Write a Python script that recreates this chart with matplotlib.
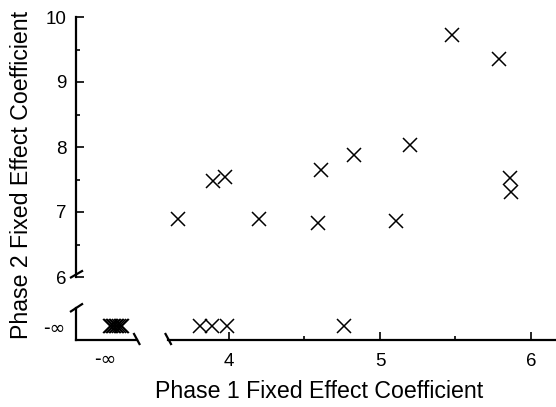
import matplotlib
matplotlib.use("Agg")
import matplotlib.pyplot as plt
from matplotlib.lines import Line2D
from matplotlib.ticker import MultipleLocator

plt.rcParams['font.family'] = ['Liberation Sans', 'DejaVu Sans']

# Points with finite values in both phases
phase1_finite = [3.67, 3.90, 3.98, 4.20, 4.59, 4.61, 4.83, 5.11, 5.20, 5.48, 5.79, 5.86, 5.87]
phase2_finite = [6.89, 7.47, 7.54, 6.89, 6.83, 7.64, 7.87, 6.86, 8.03, 9.73, 9.35, 7.52, 7.31]

# Points whose phase 2 coefficient is -inf (finite phase 1)
phase1_neginf2 = [3.81, 3.89, 3.99, 4.76]

# Points with both coefficients -inf (horizontal jitter as drawn)
neginf_jitter = [0.16, 0.21, 0.26, 0.31, 0.35, 0.40, 0.45, 0.51, 0.57]

yticks_main = [6, 7, 8, 9, 10]
xticks_main = [4, 5, 6]
neginf_label = "-\u221e"

W, H = 556, 407
fig = plt.figure(figsize=(W / 100, H / 100), dpi=100)

def rect(x0, y0, x1, y1):
    return [x0 / W, 1 - y1 / H, (x1 - x0) / W, (y1 - y0) / H]

def px(x, y):
    return x / W, 1 - y / H

XL, XR = 2.993, 6.166
ax_top = fig.add_axes(rect(76, 17, 556, 277))
ax_bl = fig.add_axes(rect(76, 308, 137, 340))
ax_br = fig.add_axes(rect(168, 308, 556, 340))

mk = dict(marker='x', linestyle='none', color='black', markersize=9.5, markeredgewidth=1.1, clip_on=False)
lw = 1.6
tick_fs = 13.5
label_fs = 16.7

# Top (main) axes
ax_top.plot(phase1_finite, phase2_finite, **mk)
ax_top.set_xlim(XL, XR)
ax_top.set_ylim(6, 10)
for s in ['top', 'right', 'bottom']:
    ax_top.spines[s].set_visible(False)
ax_top.spines['left'].set_linewidth(lw)
ax_top.set_xticks([])
ax_top.set_yticks(yticks_main)
ax_top.set_yticklabels([str(v) for v in yticks_main])
ax_top.yaxis.set_minor_locator(MultipleLocator(0.5))
ax_top.tick_params(axis='y', which='major', direction='in', length=6, width=1.2, pad=7, labelsize=tick_fs)
ax_top.tick_params(axis='y', which='minor', direction='in', length=3, width=1.2)
ax_top.patch.set_visible(False)

# Bottom-left (-inf, -inf)
ax_bl.plot(neginf_jitter, [0] * len(neginf_jitter), **mk)
ax_bl.set_xlim(-0.95, 1.05)
ax_bl.set_ylim(-0.875, 1.125)
for s in ['top', 'right']:
    ax_bl.spines[s].set_visible(False)
ax_bl.spines['left'].set_linewidth(lw)
ax_bl.spines['bottom'].set_linewidth(lw)
ax_bl.set_xticks([0])
ax_bl.set_xticklabels([neginf_label], family='DejaVu Sans')
ax_bl.set_yticks([0])
ax_bl.set_yticklabels([neginf_label], family='DejaVu Sans')
ax_bl.tick_params(axis='both', which='major', length=0, labelsize=tick_fs)
ax_bl.tick_params(axis='x', pad=7)
ax_bl.tick_params(axis='y', pad=8)
ax_bl.patch.set_visible(False)

# Bottom-right (finite phase 1, -inf phase 2)
ax_br.plot(phase1_neginf2, [0] * len(phase1_neginf2), **mk)
ax_br.set_xlim(3.596, XR)
ax_br.set_ylim(-0.875, 1.125)
for s in ['top', 'right', 'left']:
    ax_br.spines[s].set_visible(False)
ax_br.spines['bottom'].set_linewidth(lw)
ax_br.set_yticks([])
ax_br.set_xticks(xticks_main)
ax_br.set_xticklabels([str(v) for v in xticks_main])
ax_br.xaxis.set_minor_locator(MultipleLocator(0.5))
ax_br.tick_params(axis='x', which='major', direction='in', length=6, width=1.2, pad=9, labelsize=tick_fs)
ax_br.tick_params(axis='x', which='minor', direction='in', length=3, width=1.2)
ax_br.patch.set_visible(False)

# Break marks
def slash(x0, y0, x1, y1):
    a = px(x0, y0)
    b = px(x1, y1)
    fig.add_artist(Line2D([a[0], b[0]], [a[1], b[1]], transform=fig.transFigure,
                          color='black', linewidth=lw, solid_capstyle='butt'))

slash(70, 278, 83, 270.5)
slash(70, 312, 83, 303.5)
slash(133.5, 333, 140, 345)
slash(165, 333, 171.5, 345)

fig.text(*px(319, 391), "Phase 1 Fixed Effect Coefficient", ha='center', va='center', fontsize=label_fs)
fig.text(*px(22, 175), "Phase 2 Fixed Effect Coefficient", ha='center', va='center', rotation=90, fontsize=label_fs)

fig.savefig("out.png", dpi=100)
